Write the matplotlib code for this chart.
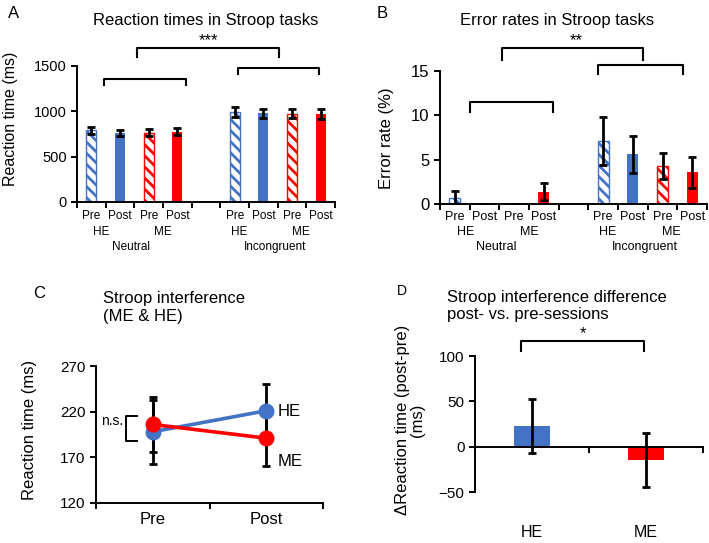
import numpy as np
import matplotlib
matplotlib.use('Agg')
import matplotlib.pyplot as plt

plt.rcParams['font.family'] = ['Liberation Sans', 'DejaVu Sans']
plt.rcParams['hatch.linewidth'] = 2.0
plt.rcParams['axes.linewidth'] = 1.4

BLUE = '#4472C4'
RED = '#FF0000'

# bar positions: HE pre, HE post, ME pre, ME post | gap | same for incongruent
bar_x = [0, 1, 2, 3, 5, 6, 7, 8]
sessions = ['Pre', 'Post', 'Pre', 'Post', 'Pre', 'Post', 'Pre', 'Post']
groups = ['HE', 'ME', 'HE', 'ME']
tasks = ['Neutral', 'Incongruent']

rt_mean = [790, 760, 765, 775, 995, 980, 975, 975]
rt_err = [40, 35, 35, 40, 55, 50, 50, 55]

err_mean = [0.7, 0.0, 0.0, 1.4, 7.1, 5.6, 4.3, 3.6]
err_err = [0.75, 0.0, 0.0, 0.95, 2.7, 2.05, 1.45, 1.75]

# panel C
c_labels = ['Pre', 'Post']
c_he = [198, 221]
c_he_err = [35, 29]
c_me = [206, 191]
c_me_err = [30, 31]

# panel D
d_labels = ['HE', 'ME']
d_mean = [23, -15]
d_err = [30, 30]

bar_colors = [BLUE, BLUE, RED, RED, BLUE, BLUE, RED, RED]
bar_hatched = [True, False, True, False, True, False, True, False]

W, H = 709, 543
fig = plt.figure(figsize=(W / 100, H / 100), dpi=100)


def px_axes(left, top, right, bottom):
    return fig.add_axes([left / W, 1 - bottom / H, (right - left) / W, (bottom - top) / H])


def ftext(x, y, s, **kw):
    fig.text(x / W, 1 - y / H, s, **kw)


def bracket(ax, x0, x1, y, h):
    ax.plot([x0, x0, x1, x1], [y - h, y, y, y - h], color='k', lw=1.5, clip_on=False)


def bar_panel(ax, means, errs, ymax, yticks, tick_fs, lab_fs, ypos):
    for x, v, c, h in zip(bar_x, means, bar_colors, bar_hatched):
        if h:
            ax.bar(x, v, 0.36, color='white', edgecolor=c, hatch='\\\\\\', linewidth=1)
        else:
            ax.bar(x, v, 0.36, color=c, linewidth=0)
    ax.errorbar(bar_x, means, yerr=errs, fmt='none', ecolor='k', elinewidth=2,
                capsize=3, capthick=2)
    ax.set_xlim(-0.5, 8.5)
    ax.set_ylim(0, ymax)
    ax.set_yticks(yticks)
    ax.set_xticks(np.arange(-0.5, 9, 1))
    ax.set_xticklabels([])
    ax.tick_params(axis='both', direction='out', length=4, width=1.4, labelsize=tick_fs)
    for s in ['top', 'right']:
        ax.spines[s].set_visible(False)
    tr = ax.get_xaxis_transform()
    for x, s in zip(bar_x, sessions):
        ax.text(x, ypos[0], s, transform=tr, ha='center', va='center', fontsize=lab_fs)
    for x, s in zip([0.35, 2.5, 5.15, 7.3], groups):
        ax.text(x, ypos[1], s, transform=tr, ha='center', va='center', fontsize=lab_fs)
    for x, s in zip([1.4, 6.4], tasks):
        ax.text(x, ypos[2], s, transform=tr, ha='center', va='center', fontsize=lab_fs)


# ---- A ----
axA = px_axes(77, 66, 335, 202)
bar_panel(axA, rt_mean, rt_err, 1500, [0, 500, 1000, 1500], 10.5, 8.5, (-0.105, -0.22, -0.33))
bracket(axA, 0.45, 3.3, 1357, 70)
bracket(axA, 5.1, 7.95, 1480, 70)
bracket(axA, 1.6, 6.55, 1700, 100)
axA.text(4.1, 1700, '***', ha='center', va='bottom', fontsize=12, clip_on=False)
ftext(11, 119, 'Reaction time (ms)', rotation=90, ha='center', va='center', fontsize=11.5)
ftext(206, 20, 'Reaction times in Stroop tasks', ha='center', va='center', fontsize=12)
ftext(14, 13, 'A', ha='center', va='center', fontsize=12)

# ---- B ----
axB = px_axes(440, 71, 707, 204)
bar_panel(axB, err_mean, err_err, 15, [0, 5, 10, 15], 12, 9, (-0.098, -0.21, -0.323))
bracket(axB, 0.5, 3.3, 11.55, 1.15)
bracket(axB, 4.82, 7.7, 15.7, 1.0)
bracket(axB, 1.58, 6.35, 17.55, 1.35)
axB.text(4.1, 17.55, '**', ha='center', va='bottom', fontsize=12, clip_on=False)
ftext(387, 138, 'Error rate (%)', rotation=90, ha='center', va='center', fontsize=12)
ftext(557, 20, 'Error rates in Stroop tasks', ha='center', va='center', fontsize=12)
ftext(382, 13, 'B', ha='center', va='center', fontsize=12)

# ---- C ----
axC = px_axes(96, 366, 323, 503)
cx = [0.5, 1.5]
axC.errorbar(cx, c_he, yerr=c_he_err, fmt='none', ecolor='k', elinewidth=2,
             capsize=3, capthick=2, zorder=1)
axC.errorbar(cx, c_me, yerr=c_me_err, fmt='none', ecolor='k', elinewidth=2,
             capsize=3, capthick=2, zorder=1)
axC.plot(cx, c_he, '-o', color=BLUE, lw=2.6, ms=10.5, zorder=3)
axC.plot(cx, c_me, '-o', color=RED, lw=2.6, ms=10.5, zorder=4)
axC.set_xlim(0, 2)
axC.set_ylim(120, 270)
axC.set_yticks([120, 170, 220, 270])
axC.set_xticks([0, 1, 2])
axC.set_xticklabels([])
axC.tick_params(axis='both', direction='out', length=4, width=1.4, labelsize=11)
for s in ['top', 'right']:
    axC.spines[s].set_visible(False)
trC = axC.get_xaxis_transform()
for x, s in zip(cx, c_labels):
    axC.text(x, -0.117, s, transform=trC, ha='center', va='center', fontsize=12)
axC.text(1.6, 220.7, 'HE', ha='left', va='center', fontsize=12)
axC.text(1.6, 165, 'ME', ha='left', va='center', fontsize=12)
axC.plot([0.364, 0.264, 0.264, 0.364], [215.3, 215.3, 187.9, 187.9], color='k', lw=1.4,
         clip_on=False)
axC.text(0.235, 210, 'n.s.', ha='right', va='center', fontsize=10)
ftext(30, 430, 'Reaction time (ms)', rotation=90, ha='center', va='center', fontsize=12)
ftext(103, 307.5, 'Stroop interference\n(ME & HE)', ha='left', va='center', fontsize=12,
      linespacing=1.25)
ftext(39, 293, 'C', ha='center', va='center', fontsize=12)

# ---- D ----
axD = px_axes(475, 356, 703, 492)
dx = [0.5, 1.5]
axD.bar(dx, d_mean, 0.32, color=[BLUE, RED], linewidth=0)
axD.errorbar(dx, d_mean, yerr=d_err, fmt='none', ecolor='k', elinewidth=2,
             capsize=3, capthick=2)
axD.set_xlim(0, 2)
axD.set_ylim(-50, 100)
axD.set_yticks([-50, 0, 50, 100])
axD.set_xticks([0, 1, 2])
axD.set_xticklabels([])
axD.spines['bottom'].set_position(('data', 0))
axD.tick_params(axis='both', direction='out', length=4, width=1.4, labelsize=11)
for s in ['top', 'right']:
    axD.spines[s].set_visible(False)
trD = axD.get_xaxis_transform()
for x, s in zip(dx, d_labels):
    axD.text(x, -0.30, s, transform=trD, ha='center', va='center', fontsize=11.5)
bracket(axD, 0.40, 1.48, 116, 10)
axD.text(0.95, 116, '*', ha='center', va='bottom', fontsize=12, clip_on=False)
ftext(410, 420, '\u0394Reaction time (post-pre)\n(ms)', rotation=90, ha='center',
      va='center', fontsize=12, multialignment='center', linespacing=1.05)
ftext(447, 306, 'Stroop interference difference\npost- vs. pre-sessions', ha='left',
      va='center', fontsize=12, linespacing=1.2)
ftext(402, 291, 'D', ha='center', va='center', fontsize=10)

fig.savefig('out.png', dpi=100)
